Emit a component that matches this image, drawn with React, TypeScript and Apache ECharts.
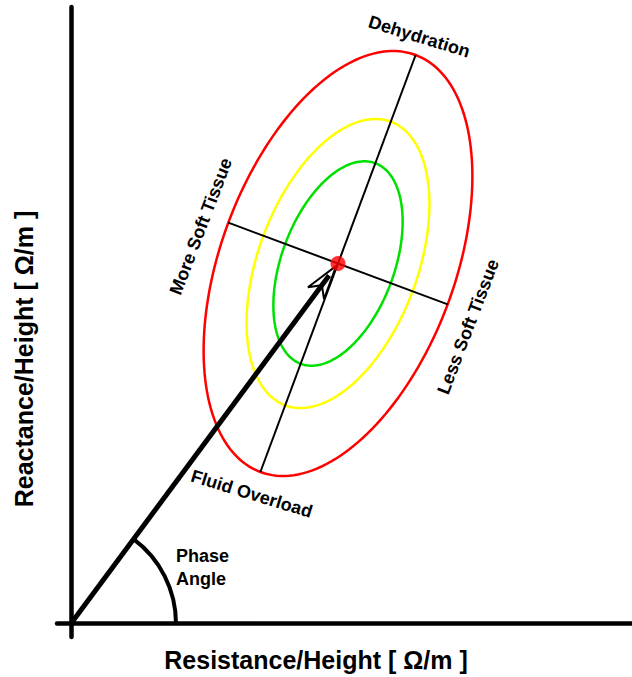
import React, { useEffect, useRef } from "react";
import * as echarts from "echarts";

// Mean impedance vector of the reference group, [R/H, Xc/H] in Ω/m
const MEAN_VECTOR = [267, 36];
// Standard deviations of R/H and Xc/H, and their correlation
const SD_VECTOR = [54.9, 8.68];
const R_XC_CORRELATION = 0.41;
// Tolerance ellipses (probability levels) and their colours
const TOLERANCE_LEVELS = [0.95, 0.75, 0.5];
const TOLERANCE_COLORS = ["#ff0000", "#ffff00", "#00e000"];
// Labels at the ends of the ellipse axes
const MAJOR_AXIS_LABELS = ["Dehydration", "Fluid Overload"];
const MINOR_AXIS_LABELS = ["More Soft Tissue", "Less Soft Tissue"];
const X_TITLE = "Resistance/Height [ Ω/m ]";
const Y_TITLE = "Reactance/Height [ Ω/m ]";
const ANGLE_LABEL = "Phase\nAngle";

const FONT = "'Liberation Sans', Arial, Helvetica, sans-serif";
const DEG = Math.PI / 180;

// Ellipse geometry (in pixels) for a given probability level
function toleranceEllipse(api: any, mean: number[], level: number) {
  const c = api.coord(mean);
  const unit = api.size([1, 1]);
  const sx = SD_VECTOR[0] * unit[0];
  const sy = SD_VECTOR[1] * unit[1];
  const k = -2 * Math.log(1 - level);
  const vxx = k * sx * sx;
  const vyy = k * sy * sy;
  const vxy = k * R_XC_CORRELATION * sx * sy;
  const m = (vxx + vyy) / 2;
  const d = Math.sqrt(((vxx - vyy) / 2) ** 2 + vxy * vxy);
  const theta = 0.5 * Math.atan2(2 * vxy, vxx - vyy);
  return { c, a: Math.sqrt(m + d), b: Math.sqrt(m - d), theta };
}

function ellipsePoints(e: { c: number[]; a: number; b: number; theta: number }) {
  const pts: number[][] = [];
  const n = 180;
  const ct = Math.cos(e.theta);
  const st = Math.sin(e.theta);
  for (let i = 0; i <= n; i++) {
    const t = (2 * Math.PI * i) / n;
    const u = e.a * Math.cos(t);
    const v = e.b * Math.sin(t);
    const X = u * ct - v * st;
    const Y = u * st + v * ct;
    pts.push([e.c[0] + X, e.c[1] - Y]);
  }
  return pts;
}

function labelText(text: string, x: number, y: number, rotDeg: number) {
  return {
    type: "text",
    x,
    y,
    rotation: rotDeg * DEG,
    style: {
      text,
      fill: "#000",
      fontSize: 18,
      fontWeight: "bold",
      fontFamily: FONT,
      align: "center",
      verticalAlign: "middle",
    },
  };
}

export default function App() {
  const ref = useRef<HTMLDivElement>(null);

  useEffect(() => {
    if (!ref.current) return;
    const chart = echarts.init(ref.current, null, { renderer: "svg" });

    const option: any = {
      animation: false,
      backgroundColor: "#ffffff",
      grid: { left: 57, right: 0, top: 7, bottom: 40 },
      xAxis: {
        type: "value",
        min: -14,
        max: 561,
        axisLine: { show: true, onZero: true, lineStyle: { color: "#000", width: 4.5 } },
        axisTick: { show: false },
        axisLabel: { show: false },
        splitLine: { show: false },
      },
      yAxis: {
        type: "value",
        min: -1.35,
        max: 61.65,
        axisLine: { show: true, onZero: true, lineStyle: { color: "#000", width: 4.5 } },
        axisTick: { show: false },
        axisLabel: { show: false },
        splitLine: { show: false },
      },
      graphic: [
        {
          type: "text",
          x: 316,
          y: 660,
          style: {
            text: X_TITLE,
            fill: "#000",
            fontSize: 25,
            fontWeight: "bold",
            fontFamily: FONT,
            align: "center",
            verticalAlign: "middle",
          },
        },
        {
          type: "text",
          x: 24,
          y: 359,
          rotation: Math.PI / 2,
          style: {
            text: Y_TITLE,
            fill: "#000",
            fontSize: 25,
            fontWeight: "bold",
            fontFamily: FONT,
            align: "center",
            verticalAlign: "middle",
          },
        },
        {
          type: "text",
          x: 176,
          y: 567,
          style: {
            text: ANGLE_LABEL,
            fill: "#000",
            fontSize: 18,
            lineHeight: 23,
            fontWeight: "bold",
            fontFamily: FONT,
            align: "left",
            verticalAlign: "middle",
          },
        },
      ],
      series: [
        {
          // tolerance ellipses
          type: "custom",
          coordinateSystem: "cartesian2d",
          silent: true,
          data: TOLERANCE_LEVELS.map((p, i) => [MEAN_VECTOR[0], MEAN_VECTOR[1], p, i]),
          renderItem: (params: any, api: any) => {
            const e = toleranceEllipse(api, [api.value(0), api.value(1)], api.value(2));
            return {
              type: "polyline",
              shape: { points: ellipsePoints(e) },
              style: { stroke: TOLERANCE_COLORS[api.value(3)], lineWidth: 2.5, fill: "none" },
            };
          },
          z: 2,
        },
        {
          // principal axes of the outer ellipse and their labels
          type: "custom",
          coordinateSystem: "cartesian2d",
          silent: true,
          data: [[MEAN_VECTOR[0], MEAN_VECTOR[1], TOLERANCE_LEVELS[0]]],
          renderItem: (params: any, api: any) => {
            const e = toleranceEllipse(api, [api.value(0), api.value(1)], api.value(2));
            const U = [Math.cos(e.theta), -Math.sin(e.theta)];
            const V = [Math.sin(e.theta), Math.cos(e.theta)];
            const [cx, cy] = e.c;
            const dEnd = [cx + e.a * U[0], cy + e.a * U[1]];
            const fEnd = [cx - e.a * U[0], cy - e.a * U[1]];
            const mEnd = [cx - e.b * V[0], cy - e.b * V[1]];
            const lEnd = [cx + e.b * V[0], cy + e.b * V[1]];
            const lineStyle = { stroke: "#000", lineWidth: 2 };
            const at = (p: number[], u: number, v: number) => [
              p[0] + u * U[0] + v * V[0],
              p[1] + u * U[1] + v * V[1],
            ];
            const dPos = at(dEnd, 18.5, -3);
            const fPos = at(fEnd, -23.5, -0.5);
            const mPos = at(mEnd, -13, -24.4);
            const lPos = at(lEnd, -13.8, 26.9);
            return {
              type: "group",
              children: [
                {
                  type: "line",
                  shape: { x1: fEnd[0], y1: fEnd[1], x2: dEnd[0], y2: dEnd[1] },
                  style: lineStyle,
                },
                {
                  type: "line",
                  shape: { x1: mEnd[0], y1: mEnd[1], x2: lEnd[0], y2: lEnd[1] },
                  style: lineStyle,
                },
                labelText(MAJOR_AXIS_LABELS[0], dPos[0], dPos[1], -17),
                labelText(MAJOR_AXIS_LABELS[1], fPos[0], fPos[1], -17),
                labelText(MINOR_AXIS_LABELS[0], mPos[0], mPos[1], 69),
                labelText(MINOR_AXIS_LABELS[1], lPos[0], lPos[1], 69),
              ],
            };
          },
          z: 3,
        },
        {
          // impedance vector with phase-angle arc
          type: "custom",
          coordinateSystem: "cartesian2d",
          silent: true,
          data: [[MEAN_VECTOR[0], MEAN_VECTOR[1]]],
          renderItem: (params: any, api: any) => {
            const o = api.coord([0, 0]);
            const m = api.coord([api.value(0), api.value(1)]);
            const dx = m[0] - o[0];
            const dy = m[1] - o[1];
            const len = Math.sqrt(dx * dx + dy * dy);
            const d = [dx / len, dy / len];
            const n = [-d[1], d[0]];
            const tip = [m[0] - 3 * d[0], m[1] - 3 * d[1]];
            const pt = (back: number, side: number) => [
              tip[0] - back * d[0] + side * n[0],
              tip[1] - back * d[1] + side * n[1],
            ];
            const shaftEnd = pt(12, 0);
            const phi = Math.atan2(o[1] - m[1], m[0] - o[0]);
            return {
              type: "group",
              children: [
                {
                  type: "arc",
                  shape: { cx: o[0], cy: o[1], r: 105, startAngle: -phi, endAngle: 0, clockwise: true },
                  style: { stroke: "#000", lineWidth: 4, fill: "none" },
                },
                {
                  type: "polygon",
                  shape: { points: [tip, pt(34, 10), pt(24, 0), pt(34, -10)] },
                  style: { stroke: "#000", lineWidth: 2, fill: "none", lineJoin: "miter" },
                },
                {
                  type: "line",
                  shape: { x1: o[0], y1: o[1], x2: shaftEnd[0], y2: shaftEnd[1] },
                  style: { stroke: "#000", lineWidth: 5 },
                },
              ],
            };
          },
          z: 4,
        },
        {
          // mean vector point
          type: "scatter",
          data: [MEAN_VECTOR],
          symbolSize: 15,
          itemStyle: { color: "#ff0000" },
          silent: true,
          z: 5,
        },
      ],
    };

    chart.setOption(option);
    return () => chart.dispose();
  }, []);

  return (
    <div
      ref={ref}
      style={{ position: "fixed", left: 0, top: 0, width: 632, height: 677, background: "#fff" }}
    />
  );
}
